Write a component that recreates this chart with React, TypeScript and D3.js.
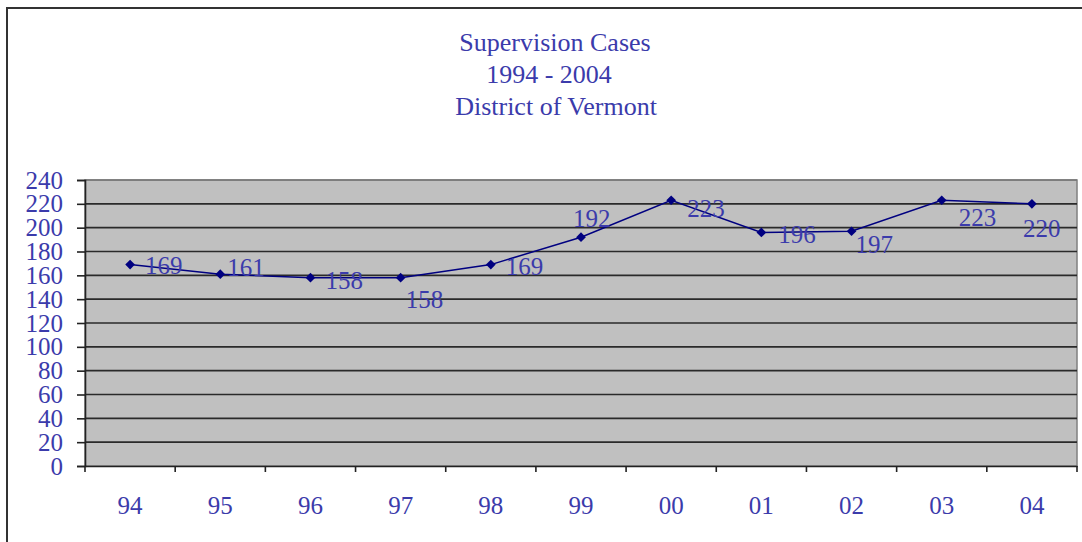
import { useEffect, useRef } from 'react';
import * as d3 from 'd3';

const years = ['94', '95', '96', '97', '98', '99', '00', '01', '02', '03', '04'];
const cases = [169, 161, 158, 158, 169, 192, 223, 196, 197, 223, 220];
const yTicks = [0, 20, 40, 60, 80, 100, 120, 140, 160, 180, 200, 220, 240];
const titleLines = ['Supervision Cases', '1994 - 2004', 'District of Vermont'];
// label offsets from each point (dx to text start, dy to text middle)
const labelDx = [15, 7, 15, 5, 15, -8, 16, 17, 4, 17, -9];
const labelDy = [1, -7, 3, 22, 2, -19, 8, 2, 13, 17, 25];

const textColor = '#3b3bab';
const lineColor = '#000080';
const font = '"Liberation Serif", "Times New Roman", serif';

const App = () => {
  const svgRef = useRef<SVGSVGElement>(null);

  useEffect(() => {
    const svg = d3.select(svgRef.current);
    svg.selectAll('*').remove();

    const plot = { left: 85, right: 1077, top: 180, bottom: 466 };

    // outer frame
    svg.append('rect')
      .attr('x', 7).attr('y', 8)
      .attr('width', 1090).attr('height', 560)
      .attr('fill', 'white')
      .attr('stroke', '#333').attr('stroke-width', 2);

    // title
    const titleX = [555, 549, 556];
    titleLines.forEach((t, i) => {
      svg.append('text')
        .attr('x', titleX[i]).attr('y', 42 + i * 32)
        .attr('text-anchor', 'middle')
        .attr('dominant-baseline', 'central')
        .style('font-family', font)
        .style('font-size', '26px')
        .attr('fill', textColor)
        .text(t);
    });

    const x = d3.scaleBand().domain(years).range([plot.left, plot.right]);
    const y = d3.scaleLinear().domain([0, 240]).range([plot.bottom, plot.top]);

    svg.append('rect')
      .attr('x', plot.left).attr('y', plot.top)
      .attr('width', plot.right - plot.left).attr('height', plot.bottom - plot.top)
      .attr('fill', '#c0c0c0')
      .attr('stroke', '#808080').attr('stroke-width', 1.5);

    // gridlines
    svg.append('g')
      .selectAll('line')
      .data(yTicks.filter(d => d > 0))
      .join('line')
      .attr('x1', plot.left).attr('x2', plot.right)
      .attr('y1', d => y(d)).attr('y2', d => y(d))
      .attr('stroke', d => (d === 240 ? '#777' : '#2a2a2a'))
      .attr('stroke-width', 1.6);

    // y axis
    const yAxis = svg.append('g')
      .attr('transform', `translate(${plot.left},0)`)
      .call(d3.axisLeft(y).tickValues(yTicks).tickSize(8).tickPadding(14));
    yAxis.select('.domain').attr('stroke', '#222').attr('stroke-width', 1.6);
    yAxis.selectAll('.tick line').attr('stroke', '#222').attr('stroke-width', 1.6);
    yAxis.selectAll('.tick text')
      .attr('fill', textColor)
      .style('font-family', font)
      .style('font-size', '25px');

    // x axis
    const xAxis = svg.append('g')
      .attr('transform', `translate(0,${plot.bottom})`)
      .call(d3.axisBottom(x).tickSize(0).tickPadding(30));
    xAxis.select('.domain').attr('stroke', '#222').attr('stroke-width', 1.6);
    xAxis.selectAll('.tick text')
      .attr('fill', textColor)
      .style('font-family', font)
      .style('font-size', '25px');
    // category separators
    xAxis.selectAll('line.sep')
      .data([...years.map(d => x(d) as number), plot.right])
      .join('line')
      .attr('class', 'sep')
      .attr('x1', d => d).attr('x2', d => d)
      .attr('y1', 0).attr('y2', 6)
      .attr('stroke', '#222').attr('stroke-width', 1.6);

    const cx = (i: number) => (x(years[i]) as number) + x.bandwidth() / 2;

    const line = d3.line<number>()
      .x((_, i) => cx(i))
      .y(d => y(d));

    svg.append('path')
      .datum(cases)
      .attr('fill', 'none')
      .attr('stroke', lineColor)
      .attr('stroke-width', 1.5)
      .attr('d', line);

    svg.append('g')
      .selectAll('path')
      .data(cases)
      .join('path')
      .attr('transform', (d, i) => `translate(${cx(i)},${y(d)})`)
      .attr('d', d3.symbol(d3.symbolDiamond2, 60))
      .attr('fill', lineColor);

    svg.append('g')
      .selectAll('text')
      .data(cases)
      .join('text')
      .attr('x', (d, i) => cx(i) + labelDx[i])
      .attr('y', (d, i) => y(d) + labelDy[i])
      .attr('dominant-baseline', 'central')
      .attr('fill', textColor)
      .style('font-family', font)
      .style('font-size', '25px')
      .text(d => d);
  }, []);

  return <svg ref={svgRef} width={1082} height={542} style={{ position: 'absolute', left: 0, top: 0 }} />;
};

export default App;
